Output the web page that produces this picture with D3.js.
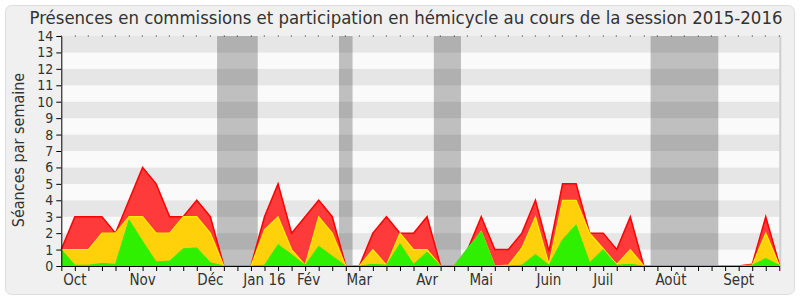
<!DOCTYPE html>
<html>
<head>
<meta charset="utf-8">
<script src="https://cdn.jsdelivr.net/npm/d3@7"></script>
<style>
  body { margin: 0; background: #fff; }
  text { font-family: "DejaVu Sans Condensed", "DejaVu Sans", sans-serif; font-stretch: condensed; fill: #333; }
</style>
</head>
<body>
<div id="graph"></div>
<script>
// weekly values, session 2015-2016 (week 0 = start of Oct 2015)
var rouge = [1, 3, 3, 3, 2, 4, 6, 5, 3, 3, 4, 3, 0, 0, 0, 3, 5, 2, 3, 4, 3, 0, 0, 2, 3, 2, 2, 3, 0, 0,
             1, 3, 1, 1, 2, 4, 0.9, 5, 5, 2, 2, 1, 3, 0, 0, 0, 0, 0, 0, 0, 0, 0.1, 3, 0.1];
var jaune = [1, 1, 1, 2, 2, 3, 3, 2, 2, 3, 3, 2, 0, 0, 0, 2.2, 3, 1, 0.05, 3, 2, 0, 0, 1, 0.05, 2, 1, 1, 0, 0,
             1, 2.1, 0, 0.05, 1.1, 3, 0.1, 4, 4, 2, 1.05, 0.1, 1, 0, 0, 0, 0, 0, 0, 0, 0, 0.05, 2, 0.05];
var vert  = [1, 0.05, 0.05, 0.15, 0.1, 2.8, 1.5, 0.25, 0.3, 1.05, 1.1, 0.2, 0, 0, 0, 0.05, 1.3, 0.7, 0.05, 1.2, 0.6, 0, 0, 0.1, 0.05, 1.35, 0.1, 0.85, 0, 0,
             1.1, 2.1, 0, 0, 0.05, 0.7, 0.05, 1.6, 2.5, 0.2, 1, 0.05, 0.1, 0, 0, 0, 0, 0, 0, 0, 0, 0.05, 0.45, 0.05];
var mois = ["Oct", "Nov", "Déc", "Jan 16", "Fév", "Mar", "Avr", "Mai", "Juin", "Juil", "Août", "Sept"];
var moisSemaine = [1, 6, 11, 15, 18.25, 22, 27, 31, 36, 40, 45, 50];
var vacDebut = [11.5, 20.5, 27.5, 43.5];
var vacFin = [14.5, 21.5, 29.5, 48.5];
var yTicks = d3.range(0, 15);

var W = 800, H = 300;
var margin = {top: 36, right: 20.7, bottom: 34, left: 61.3},
    width = W - margin.left - margin.right,
    height = H - margin.top - margin.bottom;

var svg = d3.select("#graph").append("svg")
    .attr("width", W)
    .attr("height", H);

svg.append("rect")
    .attr("x", 5.5).attr("y", 5.5)
    .attr("width", 789).attr("height", 289)
    .attr("rx", 6)
    .style("fill", "#f0f0f0")
    .style("stroke", "#dedede");

svg.append("text")
    .attr("x", 406)
    .attr("y", 24)
    .style("font-size", "18.4px")
    .style("text-anchor", "middle")
    .text("Présences en commissions et participation en hémicycle au cours de la session 2015-2016");

var g = svg.append("g")
    .attr("transform", "translate(" + margin.left + "," + margin.top + ")");

var x = d3.scaleLinear().domain([0, rouge.length - 1]).range([0, width]);
var y = d3.scaleLinear().domain([0, 14]).range([height, 0]);

// stripes
g.selectAll(".stripe")
    .data(d3.range(0, 14))
  .enter().append("rect")
    .attr("class", "stripe")
    .attr("x", 0)
    .attr("width", width)
    .attr("y", function(d) { return y(d + 1); })
    .attr("height", function(d) { return y(d) - y(d + 1); })
    .style("fill", function(d) { return d % 2 ? "#e6e6e6" : "#fafafa"; });

g.append("line")
    .attr("x1", width + 1).attr("x2", width + 1)
    .attr("y1", 0).attr("y2", height)
    .style("stroke", "#cfcfcf")
    .style("stroke-width", 2);

// vacations
g.selectAll(".vac")
    .data(vacDebut)
  .enter().append("rect")
    .attr("class", "vac")
    .attr("x", function(d) { return x(d); })
    .attr("width", function(d, i) { return x(vacFin[i]) - x(d); })
    .attr("y", 0)
    .attr("height", height)
    .style("fill", "#000")
    .style("fill-opacity", 0.235);

function aire(vals) {
  return d3.area()
    .x(function(d, i) { return x(i); })
    .y0(height)
    .y1(function(d) { return y(d); })(vals);
}
function ligne(vals) {
  return d3.line()
    .x(function(d, i) { return x(i); })
    .y(function(d) { return y(d); })(vals);
}

g.append("path").attr("d", aire(rouge)).style("fill", "#ff3a3a");
g.append("path").attr("d", ligne(rouge)).style("fill", "none").style("stroke", "#ff0000").style("stroke-width", 1.5);
g.append("path").attr("d", aire(jaune)).style("fill", "#ffd10a");
g.append("path").attr("d", ligne(jaune)).style("fill", "none").style("stroke", "#ffee00").style("stroke-width", 1.2);
g.append("path").attr("d", aire(vert)).style("fill", "#2ff000");
g.append("path").attr("d", ligne(vert)).style("fill", "none").style("stroke", "#33ee00").style("stroke-width", 1);

// top dots
g.selectAll(".dot")
    .data(d3.range(0, rouge.length))
  .enter().append("rect")
    .attr("class", "dot")
    .attr("x", function(d) { return Math.round(x(d)) - 0.5; })
    .attr("y", -0.5)
    .attr("width", 1)
    .attr("height", 1)
    .style("fill", "#222");

var yAxis = d3.axisLeft(y).tickValues(yTicks).tickSize(5).tickSizeOuter(0).tickPadding(3);
var xAxis = d3.axisBottom(x).tickValues(d3.range(0, rouge.length)).tickSize(5).tickSizeOuter(0).tickFormat("");

var ya = g.append("g").attr("class", "y axis").call(yAxis);
ya.selectAll("text").style("font-size", "14px").style("fill", "#333");
ya.selectAll("line, path").style("stroke", "#000");

var xa = g.append("g").attr("class", "x axis")
    .attr("transform", "translate(0," + height + ")")
    .call(xAxis);
xa.selectAll("line, path").style("stroke", "#000");

g.selectAll(".mois")
    .data(mois)
  .enter().append("text")
    .attr("class", "mois")
    .attr("x", function(d, i) { return x(moisSemaine[i]); })
    .attr("y", height + 19)
    .style("font-size", "15px")
    .style("text-anchor", "middle")
    .text(function(d) { return d; });

svg.append("text")
    .attr("transform", "rotate(-90)")
    .attr("x", -150)
    .attr("y", 24)
    .style("font-size", "16px")
    .style("text-anchor", "middle")
    .text("Séances par semaine");
</script>
</body>
</html>
